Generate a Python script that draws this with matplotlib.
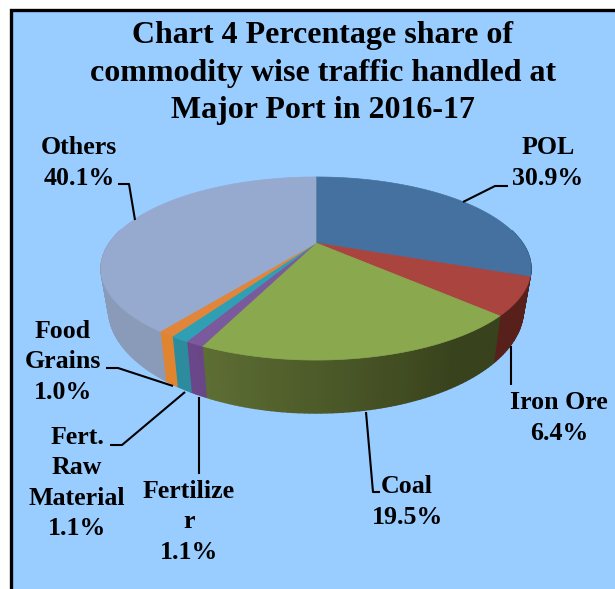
import numpy as np
import matplotlib
matplotlib.use("Agg")
import matplotlib.pyplot as plt
from matplotlib.patches import Polygon

labels = ["POL", "Iron Ore", "Coal", "Fertilize\nr", "Fert.\nRaw\nMaterial", "Food\nGrains", "Others"]
values = [30.9, 6.4, 19.5, 1.1, 1.1, 1.0, 40.1]
top_colors = ["#44719f", "#a9443f", "#8aa84e", "#7a5a9c", "#2f9fb4", "#e0853a", "#96a9cf"]
side_dark = ["#2f4f70", "#57201a", "#38421c", "#54356f", "#1f7f8f", "#d07a2a", "#7d8fae"]
side_light = ["#2f4f70", "#6a2a22", "#5f7035", "#6a4788", "#2c8c9e", "#e0842f", "#8a9bb9"]

title_text = "Chart 4 Percentage share of\ncommodity wise traffic handled at\nMajor Port in 2016-17"

# label centres and leader lines, in image pixels
label_pos = [(548, 163), (559, 418), (407, 502), (189, 522), (77, 483), (63, 362), (79, 163)]
leaders = [
    [(463, 202), (495, 186), (508, 186)],
    [(511, 346), (511, 385)],
    [(366, 412), (373, 492), (380, 492)],
    [(199, 397), (199, 474)],
    [(185, 392), (122, 445), (110, 445)],
    [(173, 386), (118, 368), (106, 368)],
    [(135, 220), (129, 184), (118, 184)],
]

plt.rcParams['font.family'] = ['Liberation Serif', 'DejaVu Serif']

fig = plt.figure(figsize=(6.15, 5.89), dpi=100, facecolor="white")
ax = fig.add_axes([0, 0, 1, 1])
ax.set_xlim(0, 615)
ax.set_ylim(589, 0)
ax.axis("off")

# chart area and its border (cut off at right and bottom like the original)
ax.add_patch(plt.Rectangle((10.5, 9.5), 640, 620, facecolor="#99ccff", edgecolor="black", lw=2.4))

# perspective projection of a tilted disc
cx, apex_y = 316, 243
persp, y_slope, rx = 0.2787, -16.7, 206.5


def rim_top(theta):
    c = np.cos(theta)
    d = 1 + persp * c
    return cx + rx * np.sin(theta) / d, (apex_y + y_slope * c) / d


def rim_bottom(theta):
    x, y = rim_top(theta)
    return cx + (x - cx) * 0.965, y + 47 + (y - 316) * 0.136


fracs = np.array(values) / np.sum(values)
edges = np.concatenate([[0], np.cumsum(fracs)]) * 2 * np.pi

# side wall, drawn strip by strip so it can carry the shading
for i in range(len(values)):
    start, stop = edges[i], edges[i + 1]
    n = max(int((stop - start) / 0.02), 2)
    ts = np.linspace(start, stop, n + 1)
    dark = np.array(matplotlib.colors.to_rgb(side_dark[i]))
    light = np.array(matplotlib.colors.to_rgb(side_light[i]))
    for a, b in zip(ts[:-1], ts[1:]):
        mid = (a + b) / 2
        if not (np.pi * 0.45 < mid < np.pi * 1.55):
            continue
        # darker towards the right hand side of the pie
        w = np.clip((mid - 2.6) / (3.6 - 2.6), 0, 1)
        col = dark + (light - dark) * w
        xa, ya = rim_top(a)
        xb, yb = rim_top(b)
        xc, yc = rim_bottom(b)
        xd, yd = rim_bottom(a)
        ax.add_patch(Polygon([(xa, ya), (xb, yb), (xc, yc), (xd, yd)], closed=True,
                             facecolor=col, edgecolor=col, lw=1.0))

# top surface
for i in range(len(values)):
    ts = np.linspace(edges[i], edges[i + 1], 120)
    xs, ys = rim_top(ts)
    pts = [(cx, apex_y)] + list(zip(xs, ys))
    ax.add_patch(Polygon(pts, closed=True, facecolor=top_colors[i], edgecolor=top_colors[i], lw=0.5))

for line in leaders:
    xs = [p[0] for p in line]
    ys = [p[1] for p in line]
    ax.plot(xs, ys, color="black", lw=1.5, solid_capstyle="butt")

ax.text(323, 73, title_text, ha="center", va="center", fontsize=23, fontweight="bold",
        color="black", linespacing=1.4)

for name, val, pos in zip(labels, values, label_pos):
    ax.text(pos[0], pos[1], f"{name}\n{val:.1f}%", ha="center", va="center", fontsize=18.6,
            fontweight="bold", color="black", linespacing=1.4)

fig.savefig("out.png", dpi=100, facecolor="white")
